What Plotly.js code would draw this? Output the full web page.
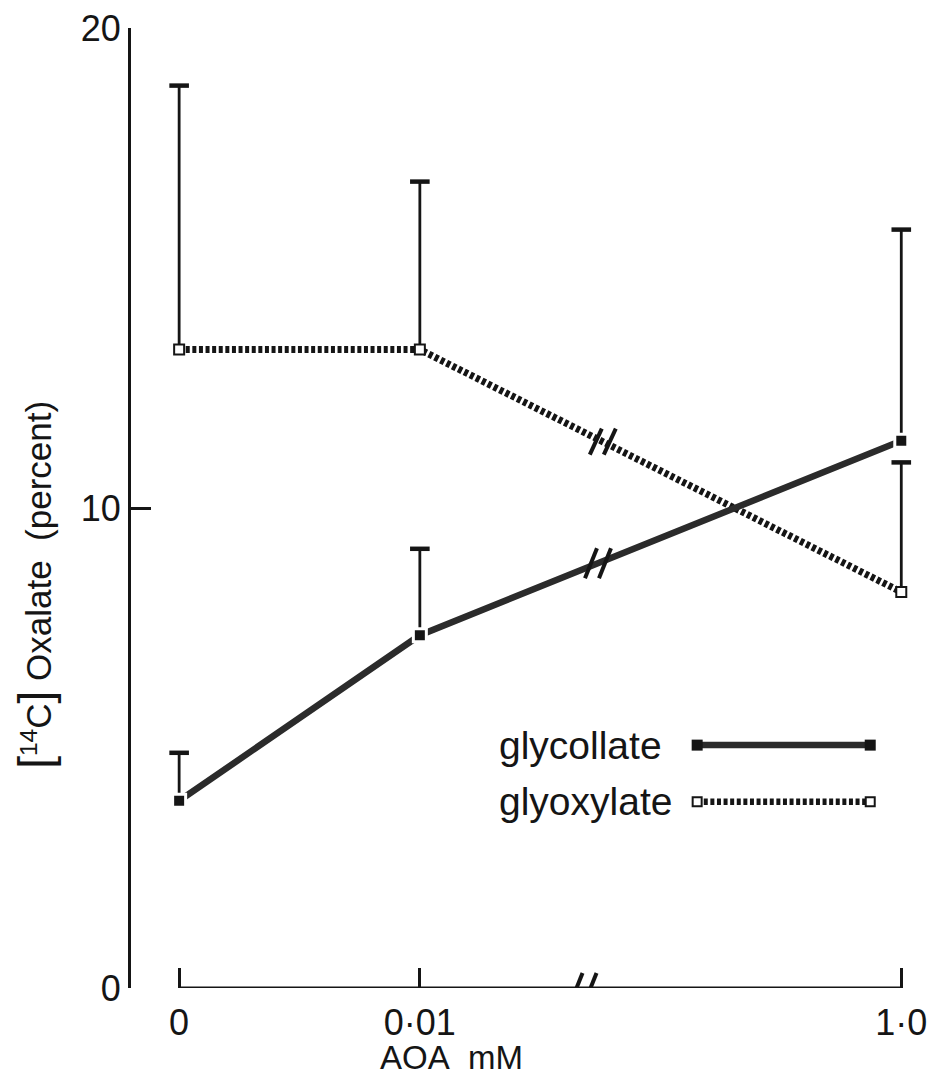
<!DOCTYPE html>
<html>
<head>
<meta charset="utf-8">
<script src="https://cdn.plot.ly/plotly-3.0.1.min.js"></script>
<style>html,body{margin:0;padding:0;background:#fff;}</style>
</head>
<body>
<div id="chart" style="width:930px;height:1078px;"></div>
<script>
// ---- data ----
const categories = ['0', '0\u00b701', '1\u00b70'];          // AOA mM tick labels
const xPositions = [0, 1, 3];                              // place of each concentration on the broken axis
const glycollate = [3.9, 7.35, 11.4];
const glycollateErr = [1.0, 1.8, 4.4];
const glyoxylate = [13.3, 13.3, 8.25];
const glyoxylateErr = [5.5, 3.5, 2.7];
const yTicks = [0, 10, 20];
const seriesNames = ['glycollate', 'glyoxylate'];

// ---- styling ----
const INK = '#151515';
const FONT = 'Liberation Sans, Arial, sans-serif';

function errTraces(vals, errs) {
  const bx = [], by = [];
  vals.forEach((v, i) => { bx.push(xPositions[i], xPositions[i], null); by.push(v, v + errs[i], null); });
  return [
    {x: bx, y: by, mode: 'lines', line: {color: INK, width: 2.8}, hoverinfo: 'skip', showlegend: false},
    {x: xPositions, y: vals.map((v, i) => v + errs[i]), mode: 'markers', hoverinfo: 'skip', showlegend: false,
     marker: {symbol: 'line-ew', size: 14, line: {color: INK, width: 4.5}}}
  ];
}

// legend sample placement (axis units)
const legendLayout = {textX: 1.32, x0: 2.152, x1: 2.871, rows: [5.06, 3.88]};

const glycStyle = {line: {color: '#2b2b2b', width: 6.5}, marker: {symbol: 'square', size: 13, color: INK, line: {color: '#fff', width: 3}}};
const glyoStyle = {line: {color: INK, width: 7, dash: '4px,2.6px'}, marker: {symbol: 'square', size: 10, color: '#fff', line: {color: INK, width: 2}}};

const traces = [
  ...errTraces(glycollate, glycollateErr),
  ...errTraces(glyoxylate, glyoxylateErr),
  Object.assign({x: xPositions, y: glyoxylate, name: seriesNames[1], mode: 'lines+markers', showlegend: false}, glyoStyle),
  Object.assign({x: xPositions, y: glycollate, name: seriesNames[0], mode: 'lines+markers', showlegend: false}, glycStyle),
  // custom legend samples
  Object.assign({x: [legendLayout.x0, legendLayout.x1], y: [legendLayout.rows[0], legendLayout.rows[0]], mode: 'lines+markers', hoverinfo: 'skip', showlegend: false},
    {line: glycStyle.line, marker: {symbol: 'square', size: 11, color: INK}}),
  Object.assign({x: [legendLayout.x0, legendLayout.x1], y: [legendLayout.rows[1], legendLayout.rows[1]], mode: 'lines+markers', hoverinfo: 'skip', showlegend: false},
    {line: {color: INK, width: 6.5, dash: '4px,2.6px'}, marker: {symbol: 'square', size: 9, color: '#fff', line: {color: INK, width: 2}}})
];

// axis break markers "//"
function interp(xs, ys, xb) {
  for (let i = 0; i < xs.length - 1; i++) {
    if (xb >= xs[i] && xb <= xs[i + 1]) return ys[i] + (ys[i + 1] - ys[i]) * (xb - xs[i]) / (xs[i + 1] - xs[i]);
  }
  return ys[ys.length - 1];
}
function breakMark(xb, yb, yref, half) {
  const h = half || 15;
  return [-7, 7].map(dx => ({type: 'line', xref: 'x', yref: yref, xsizemode: 'pixel', ysizemode: 'pixel',
    xanchor: xb, yanchor: yb, x0: dx - 6, x1: dx + 6, y0: -h, y1: h, line: {color: INK, width: 4}}));
}
const xBreakAxis = 1.68, xBreakCurve = 1.74;
const shapes = [
  {type: 'line', xref: 'x', yref: 'y', x0: xPositions[0], x1: xPositions[xPositions.length - 1], y0: 0, y1: 0,
   line: {color: INK, width: 3}},
  ...breakMark(xBreakAxis, 0, 'y', 15),
  ...breakMark(xBreakCurve, interp(xPositions, glycollate, xBreakCurve), 'y', 15),
  ...breakMark(xBreakCurve + 0.02, interp(xPositions, glyoxylate, xBreakCurve + 0.02), 'y', 13)
];

const BR = '<span style="font-size:46px">';
const annotations = [
  {text: BR + '[</span><sup>14</sup>C' + BR + ']</span> Oxalate\u00a0 (percent)', textangle: -90, xref: 'paper', yref: 'y', x: -0.1224, y: 8.4,
   xanchor: 'center', yanchor: 'middle', showarrow: false, font: {family: FONT, size: 35, color: INK}},
  {text: 'AOA\u00a0 mM', xref: 'x', yref: 'paper', x: 1.13, y: -0.0725, xanchor: 'center', yanchor: 'middle',
   showarrow: false, font: {family: FONT, size: 33, color: INK}},
  {text: seriesNames[0], xref: 'x', yref: 'y', x: legendLayout.textX, y: legendLayout.rows[0], xanchor: 'left', yanchor: 'middle',
   showarrow: false, font: {family: FONT, size: 39, color: INK}},
  {text: seriesNames[1], xref: 'x', yref: 'y', x: legendLayout.textX, y: legendLayout.rows[1], xanchor: 'left', yanchor: 'middle',
   showarrow: false, font: {family: FONT, size: 39, color: INK}}
];

const layout = {
  width: 930, height: 1078,
  margin: {l: 131, r: 15, t: 28, b: 90, pad: 0},
  paper_bgcolor: '#fff', plot_bgcolor: '#fff',
  showlegend: false,
  font: {family: FONT, color: INK},
  xaxis: {range: [-0.2, 3.057], tickmode: 'array', tickvals: xPositions, ticktext: categories,
    ticks: 'inside', ticklen: 20, tickwidth: 3, tickcolor: INK, showline: false, showgrid: false, zeroline: false,
    ticklabelstandoff: 10,
    tickfont: {family: FONT, size: 36, color: INK}, anchor: 'y', fixedrange: true},
  yaxis: {range: [0, 20], tickmode: 'array', tickvals: yTicks, ticktext: yTicks.map(String),
    ticks: 'inside', ticklen: 20, tickwidth: 3, tickcolor: INK, showline: true, linewidth: 3, linecolor: INK,
    showgrid: false, zeroline: false, tickfont: {family: FONT, size: 36, color: INK}, anchor: 'x', fixedrange: true},
  shapes: shapes,
  annotations: annotations
};

Plotly.newPlot('chart', traces, layout, {staticPlot: true, displayModeBar: false});
</script>
</body>
</html>
